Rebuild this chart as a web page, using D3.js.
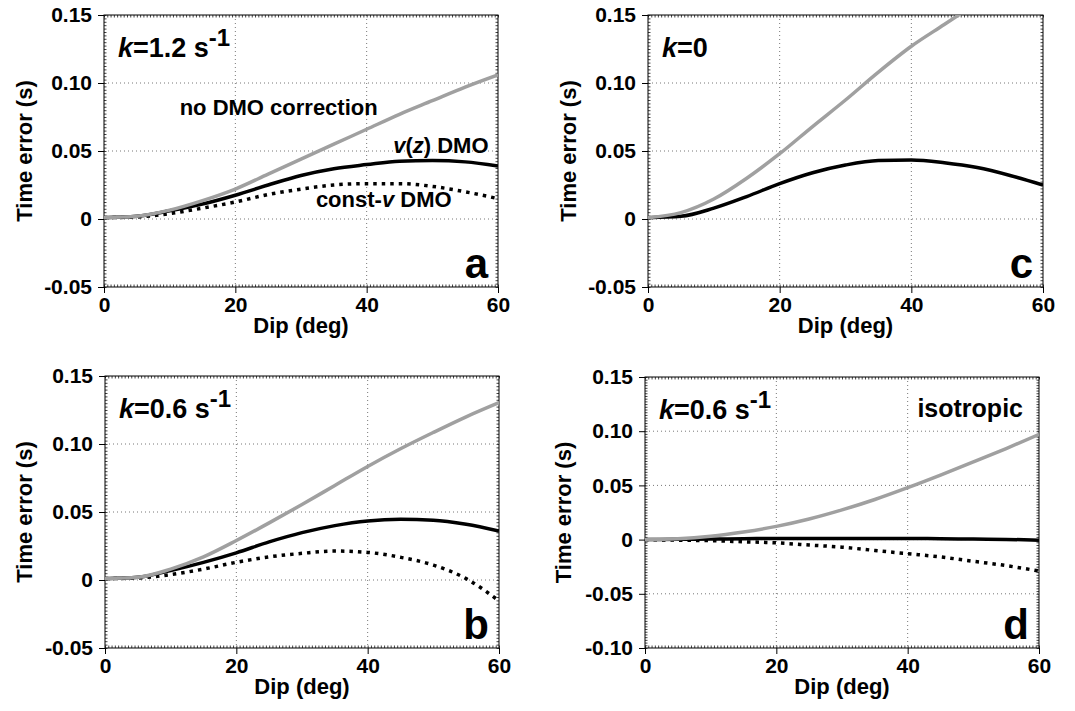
<!DOCTYPE html>
<html>
<head>
<meta charset="utf-8">
<script src="https://cdn.jsdelivr.net/npm/d3@7"></script>
<style>
  body { margin: 0; background: #fff; }
  svg text { font-family: "Liberation Sans", Arial, Helvetica, sans-serif; font-weight: bold; fill: #000; }
</style>
</head>
<body>
<svg id="chart" width="1075" height="711"></svg>
<script>
// dip angles (deg)
var dips = [0, 5, 10, 15, 20, 25, 30, 35, 40, 45, 50, 55, 60];

// panel a, k = 1.2 s^-1
var aNoDmo  = [0.001, 0.002, 0.0065, 0.0135, 0.022, 0.033, 0.044, 0.055, 0.066, 0.077, 0.087, 0.097, 0.106];
var aVzDmo  = [0.001, 0.002, 0.006, 0.011, 0.0175, 0.025, 0.032, 0.037, 0.040, 0.0425, 0.043, 0.042, 0.039];
var aConstV = [0.001, 0.0015, 0.004, 0.008, 0.0125, 0.018, 0.022, 0.025, 0.026, 0.026, 0.024, 0.020, 0.015];

// panel b, k = 0.6 s^-1
var bNoDmo  = [0.001, 0.002, 0.008, 0.017, 0.029, 0.042, 0.0555, 0.0695, 0.0835, 0.0965, 0.1085, 0.120, 0.1304];
var bVzDmo  = [0.001, 0.002, 0.007, 0.013, 0.020, 0.028, 0.0348, 0.040, 0.0434, 0.0446, 0.044, 0.041, 0.036];
var bConstV = [0.001, 0.0015, 0.004, 0.008, 0.013, 0.017, 0.0196, 0.0213, 0.0203, 0.0167, 0.011, 0.001, -0.0154];

// panel c, k = 0
var cNoDmo  = [0.001, 0.0047, 0.0147, 0.030, 0.048, 0.068, 0.0875, 0.108, 0.127, 0.143, 0.159, 0.175, 0.19];
var cVzDmo  = [0.001, 0.002, 0.008, 0.0165, 0.026, 0.034, 0.0397, 0.043, 0.0434, 0.0414, 0.0378, 0.032, 0.025];

// panel d, k = 0.6 s^-1, isotropic
var dNoDmo  = [0, 0.0007, 0.003, 0.007, 0.0122, 0.019, 0.0274, 0.037, 0.0479, 0.0595, 0.0716, 0.084, 0.097];
var dVzDmo  = [0, 0.0003, 0.0005, 0.0008, 0.001, 0.001, 0.001, 0.001, 0.001, 0.0008, 0.0005, 0.0002, -0.0005];
var dConstV = [0, -0.0005, -0.001, -0.002, -0.003, -0.005, -0.007, -0.010, -0.013, -0.016, -0.020, -0.024, -0.029];

var xTicks = [0, 20, 40, 60];
var yTicksA = [-0.05, 0, 0.05, 0.10, 0.15];
var yTicksD = [-0.10, -0.05, 0, 0.05, 0.10, 0.15];

var panels = [
  { id: 'a', left: 104, right: 498, top: 15, bottom: 287, yDomain: [-0.05, 0.15], yTicks: yTicksA,
    gray: aNoDmo, black: aVzDmo, dotted: aConstV, kLabel: '1.2', titleX: 32 },
  { id: 'c', left: 648, right: 1043, top: 15, bottom: 287, yDomain: [-0.05, 0.15], yTicks: yTicksA,
    gray: cNoDmo, black: cVzDmo, dotted: null, kLabel: '0', titleX: 576 },
  { id: 'b', left: 105, right: 499, top: 376, bottom: 648, yDomain: [-0.05, 0.15], yTicks: yTicksA,
    gray: bNoDmo, black: bVzDmo, dotted: bConstV, kLabel: '0.6', titleX: 32 },
  { id: 'd', left: 645, right: 1039, top: 377, bottom: 648, yDomain: [-0.10, 0.15], yTicks: yTicksD,
    gray: dNoDmo, black: dVzDmo, dotted: dConstV, kLabel: '0.6', titleX: 571 }
];

var svg = d3.select('#chart');
svg.append('rect').attr('width', 1075).attr('height', 711).attr('fill', '#fff');

var fmt = function(v) { return Math.abs(v) < 1e-9 ? '0' : v.toFixed(2); };

panels.forEach(function(p) {
  var x = d3.scaleLinear().domain([0, 60]).range([p.left, p.right]);
  var y = d3.scaleLinear().domain(p.yDomain).range([p.bottom, p.top]);
  var g = svg.append('g').attr('class', 'panel-' + p.id);

  // grid
  g.append('g').selectAll('line').data(xTicks.slice(1, -1)).enter().append('line')
    .attr('x1', d => x(d)).attr('x2', d => x(d)).attr('y1', p.top).attr('y2', p.bottom)
    .attr('stroke', '#777').attr('stroke-width', 1).attr('stroke-dasharray', '1,3');
  g.append('g').selectAll('line').data(p.yTicks.slice(1, -1)).enter().append('line')
    .attr('y1', d => y(d)).attr('y2', d => y(d)).attr('x1', p.left).attr('x2', p.right)
    .attr('stroke', '#777').attr('stroke-width', 1).attr('stroke-dasharray', '1,3');

  // minor ticks on all four sides, pointing inward
  var xMinor = d3.range(0, 60.001, 0.5);
  var yMinor = d3.range(p.yDomain[0], p.yDomain[1] + 1e-6, 0.0025);
  function minor(axis, tr) {
    g.append('g').attr('transform', tr).call(axis)
      .call(s => s.select('.domain').remove())
      .call(s => s.selectAll('line').attr('stroke', '#444'));
  }
  minor(d3.axisBottom(x).tickValues(xMinor).tickSize(-2.5).tickFormat(''), 'translate(0,' + p.bottom + ')');
  minor(d3.axisTop(x).tickValues(xMinor).tickSize(-2.5).tickFormat(''), 'translate(0,' + p.top + ')');
  minor(d3.axisLeft(y).tickValues(yMinor).tickSize(-2.5).tickFormat(''), 'translate(' + p.left + ',0)');
  minor(d3.axisRight(y).tickValues(yMinor).tickSize(-2.5).tickFormat(''), 'translate(' + p.right + ',0)');

  // frame
  g.append('rect').attr('x', p.left).attr('y', p.top)
    .attr('width', p.right - p.left).attr('height', p.bottom - p.top)
    .attr('fill', 'none').attr('stroke', '#000').attr('stroke-width', 1);

  // major axes
  var xAxis = g.append('g').attr('transform', 'translate(0,' + p.bottom + ')')
    .call(d3.axisBottom(x).tickValues(xTicks).tickSize(6).tickPadding(4).tickFormat(d3.format('d')));
  var yAxis = g.append('g').attr('transform', 'translate(' + p.left + ',0)')
    .call(d3.axisLeft(y).tickValues(p.yTicks).tickSize(6).tickPadding(6).tickFormat(fmt));
  [xAxis, yAxis].forEach(function(a) {
    a.select('.domain').remove();
    a.selectAll('line').attr('stroke', '#000');
    a.selectAll('text').style('font-size', '21px').style('font-family', '"Liberation Sans", Arial, sans-serif')
      .style('font-weight', 'bold').attr('fill', '#000');
  });

  // axis titles
  g.append('text').attr('x', (p.left + p.right) / 2).attr('y', p.bottom + 46)
    .attr('text-anchor', 'middle').style('font-size', '22px').text('Dip (deg)');
  g.append('text').attr('transform', 'translate(' + p.titleX + ',' + (p.top + p.bottom) / 2 + ') rotate(-90)')
    .attr('text-anchor', 'middle').style('font-size', '22px').text('Time error (s)');

  // curves
  var clipId = 'clip-' + p.id;
  g.append('clipPath').attr('id', clipId).append('rect')
    .attr('x', p.left).attr('y', p.top).attr('width', p.right - p.left).attr('height', p.bottom - p.top);
  var line = d3.line().x(d => x(d[0])).y(d => y(d[1])).curve(d3.curveMonotoneX);
  var lines = g.append('g').attr('clip-path', 'url(#' + clipId + ')');
  if (p.dotted) {
    lines.append('path').datum(d3.zip(dips, p.dotted)).attr('d', line)
      .attr('fill', 'none').attr('stroke', '#000').attr('stroke-width', 3.5).attr('stroke-dasharray', '3.5,5');
  }
  lines.append('path').datum(d3.zip(dips, p.black)).attr('d', line)
    .attr('fill', 'none').attr('stroke', '#000').attr('stroke-width', 3.5);
  lines.append('path').datum(d3.zip(dips, p.gray)).attr('d', line)
    .attr('fill', 'none').attr('stroke', '#a0a0a0').attr('stroke-width', 3.5);

  // k label
  var kt = g.append('text').attr('x', p.left + 14).attr('y', p.top + 42).style('font-size', '27px');
  kt.append('tspan').style('font-style', 'italic').text('k');
  kt.append('tspan').text('=' + p.kLabel + (p.kLabel === '0' ? '' : ' s'));
  if (p.kLabel !== '0') {
    kt.append('tspan').attr('dy', -11).style('font-size', '24px').text('-1');
  }

  // panel letter
  g.append('text').attr('x', p.right - 10).attr('y', p.bottom - 9)
    .attr('text-anchor', 'end').style('font-size', '42px').text(p.id);

  p.x = x; p.y = y; p.g = g;
});

// annotations in panel a
var pa = panels[0];
pa.g.append('text').attr('x', pa.x(26.6)).attr('y', pa.y(0.0765)).attr('text-anchor', 'middle')
  .style('font-size', '22px').text('no DMO correction');
var vz = pa.g.append('text').attr('x', pa.x(51.3)).attr('y', pa.y(0.0485)).attr('text-anchor', 'middle')
  .style('font-size', '22px');
vz.append('tspan').style('font-style', 'italic').text('v');
vz.append('tspan').text('(');
vz.append('tspan').style('font-style', 'italic').text('z');
vz.append('tspan').text(') DMO');
var cv = pa.g.append('text').attr('x', pa.x(42.6)).attr('y', pa.y(0.0088)).attr('text-anchor', 'middle')
  .style('font-size', '22px');
cv.append('tspan').text('const-');
cv.append('tspan').style('font-style', 'italic').text('v');
cv.append('tspan').text(' DMO');

// annotation in panel d
var pd = panels[3];
pd.g.append('text').attr('x', pd.right - 16).attr('y', pd.top + 40).attr('text-anchor', 'end')
  .style('font-size', '25px').text('isotropic');
</script>
</body>
</html>
